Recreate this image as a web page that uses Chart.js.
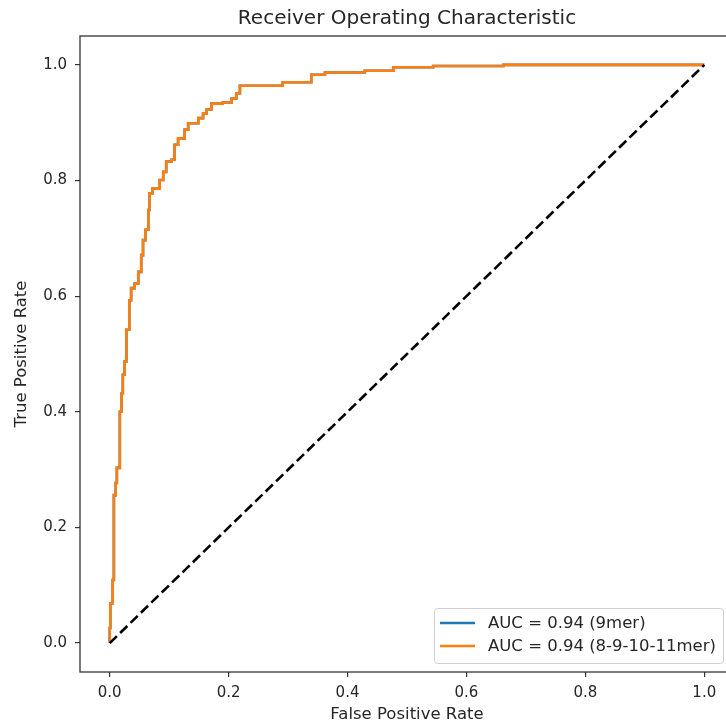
<!DOCTYPE html>
<html>
<head>
<meta charset="utf-8">
<script src="https://cdn.jsdelivr.net/npm/chart.js@4.4.1/dist/chart.umd.min.js"></script>
<style>
  html, body { margin: 0; padding: 0; background: #fff; overflow: hidden; }
  #wrap { position: absolute; left: 0; top: 0; width: 760px; height: 725px; }
</style>
</head>
<body>
<div id="wrap"><canvas id="roc"></canvas></div>
<script>
// ROC staircase (both models give the same curve)
const fpr = [0, 0, 0.001, 0.001, 0.005, 0.005, 0.007, 0.007, 0.010, 0.010, 0.012, 0.012,
  0.017, 0.017, 0.020, 0.020, 0.022, 0.022, 0.025, 0.025, 0.028, 0.028, 0.033, 0.033,
  0.036, 0.036, 0.042, 0.042, 0.048, 0.048, 0.053, 0.053, 0.056, 0.056, 0.060, 0.060,
  0.065, 0.065, 0.067, 0.067, 0.072, 0.072, 0.084, 0.084, 0.090, 0.090, 0.095, 0.095,
  0.104, 0.104, 0.109, 0.109, 0.115, 0.115, 0.126, 0.126, 0.132, 0.132, 0.149, 0.149,
  0.157, 0.157, 0.163, 0.163, 0.171, 0.171, 0.190, 0.190, 0.205, 0.205, 0.213, 0.213,
  0.219, 0.219, 0.291, 0.291, 0.339, 0.339, 0.362, 0.362, 0.429, 0.429, 0.477, 0.477,
  0.544, 0.544, 0.662, 0.662, 1.0];
const tpr = [0, 0.026, 0.026, 0.069, 0.069, 0.109, 0.109, 0.256, 0.256, 0.277, 0.277, 0.303,
  0.303, 0.400, 0.400, 0.432, 0.432, 0.464, 0.464, 0.487, 0.487, 0.542, 0.542, 0.593,
  0.593, 0.614, 0.614, 0.622, 0.622, 0.642, 0.642, 0.671, 0.671, 0.697, 0.697, 0.715,
  0.715, 0.749, 0.749, 0.778, 0.778, 0.786, 0.786, 0.801, 0.801, 0.815, 0.815, 0.833,
  0.833, 0.836, 0.836, 0.862, 0.862, 0.873, 0.873, 0.888, 0.888, 0.899, 0.899, 0.908,
  0.908, 0.916, 0.916, 0.923, 0.923, 0.933, 0.933, 0.935, 0.935, 0.942, 0.942, 0.951,
  0.951, 0.964, 0.964, 0.970, 0.970, 0.983, 0.983, 0.987, 0.987, 0.990, 0.990, 0.996,
  0.996, 0.998, 0.998, 1.0, 1.0];
const chanceLine = [0, 1];
const seriesLabels = ['AUC = 0.94 (9mer)', 'AUC = 0.94 (8-9-10-11mer)'];
const seriesColors = ['#1f77b4', '#ff7f0e'];
const tickValues = [0, 0.2, 0.4, 0.6, 0.8, 1.0];

const toPoints = (xs, ys) => xs.map((x, i) => ({ x: x, y: ys[i] }));
const FONT = 'DejaVu Sans';
const INK = '#262626';

// box, title and legend drawn like matplotlib
const mplBits = {
  id: 'mplBits',
  afterDraw(chart) {
    const { ctx, chartArea: a } = chart;
    ctx.save();
    ctx.strokeStyle = '#333';
    ctx.lineWidth = 1.3;
    ctx.strokeRect(a.left, a.top, a.right - a.left, a.bottom - a.top);

    ctx.fillStyle = INK;
    ctx.font = '20px "' + FONT + '"';
    ctx.textAlign = 'center';
    ctx.textBaseline = 'middle';
    ctx.fillText('Receiver Operating Characteristic', (a.left + a.right) / 2, 19);

    // legend, lower right
    const bx = 434, by = 608, bw = 289, bh = 55;
    ctx.fillStyle = 'rgba(255,255,255,0.8)';
    ctx.strokeStyle = '#d0d0d0';
    ctx.lineWidth = 1;
    ctx.beginPath();
    ctx.roundRect(bx + 0.5, by + 0.5, bw, bh, 3);
    ctx.fill();
    ctx.stroke();
    ctx.font = '16.5px "' + FONT + '"';
    ctx.textAlign = 'left';
    seriesLabels.forEach((lab, i) => {
      const y = 623 + i * 23;
      ctx.strokeStyle = seriesColors[i];
      ctx.lineWidth = 2.6;
      ctx.beginPath();
      ctx.moveTo(440, y);
      ctx.lineTo(475, y);
      ctx.stroke();
      ctx.fillStyle = INK;
      ctx.fillText(lab, 488, y + 1);
    });
    ctx.restore();
  }
};

const axisCommon = {
  type: 'linear',
  min: -0.05,
  max: 1.05,
  afterBuildTicks: (s) => { s.ticks = tickValues.map(v => ({ value: v })); },
  grid: { display: true, drawOnChartArea: false, drawTicks: true, tickLength: 5, color: '#333', lineWidth: 1.2 },
  border: { display: false },
  ticks: {
    color: INK,
    font: { family: FONT, size: 15 },
    callback: (v) => Number(v).toFixed(1)
  }
};

new Chart(document.getElementById('roc'), {
  type: 'scatter',
  data: {
    datasets: [
      {
        label: seriesLabels[0],
        data: toPoints(fpr, tpr),
        borderColor: seriesColors[0],
        borderWidth: 2.6,
        showLine: true,
        pointRadius: 0,
        fill: false,
        order: 3
      },
      {
        label: seriesLabels[1],
        data: toPoints(fpr, tpr),
        borderColor: seriesColors[1],
        borderWidth: 2.6,
        showLine: true,
        pointRadius: 0,
        fill: false,
        order: 2
      },
      {
        label: 'chance',
        data: toPoints(chanceLine, chanceLine),
        borderColor: '#000',
        borderWidth: 2.6,
        borderDash: [10, 4.5],
        showLine: true,
        pointRadius: 0,
        fill: false,
        order: 1
      }
    ]
  },
  options: {
    responsive: true,
    maintainAspectRatio: false,
    animation: false,
    layout: { padding: { top: 36, right: 26, left: 0, bottom: 0 } },
    plugins: {
      legend: { display: false },
      title: { display: false },
      tooltip: { enabled: false }
    },
    scales: {
      x: {
        ...axisCommon,
        position: 'bottom',
        afterFit: (s) => { s.height = 53; },
        ticks: { ...axisCommon.ticks, padding: 7, maxRotation: 0 },
        title: { display: true, text: 'False Positive Rate', color: INK, font: { family: FONT, size: 16.5 }, padding: { top: 1, bottom: 0 } }
      },
      y: {
        ...axisCommon,
        position: 'left',
        afterFit: (s) => { s.width = 80; },
        ticks: { ...axisCommon.ticks, padding: 8 },
        title: { display: true, text: 'True Positive Rate', color: INK, font: { family: FONT, size: 16.5 }, padding: { top: 12, bottom: 0 } }
      }
    }
  },
  plugins: [mplBits]
});
</script>
</body>
</html>
